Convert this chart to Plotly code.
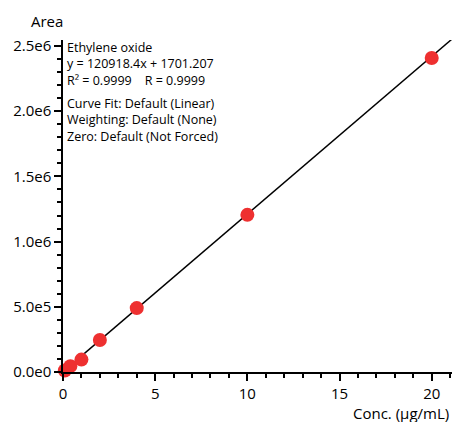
import plotly.graph_objects as go

conc = [0.1, 0.4, 1, 2, 4, 10, 20]
area = [12000, 45000, 95000, 245000, 490000, 1205000, 2408000]
slope = 120918.4
intercept = 1701.207
x_max = 21.1
y_max = 2.546e6
y_tickvals = [0, 0.5e6, 1.0e6, 1.5e6, 2.0e6, 2.5e6]
y_ticktext = ["0.0e0", "5.0e5", "1.0e6", "1.5e6", "2.0e6", "2.5e6"]
x_tickvals = [0, 5, 10, 15, 20]
fit_lines = [
    "Ethylene oxide",
    "y = 120918.4x + 1701.207",
    "R² = 0.9999&nbsp;&nbsp;&nbsp;&nbsp;R = 0.9999",
]
settings_lines = [
    "Curve Fit: Default (Linear)",
    "Weighting: Default (None)",
    "Zero: Default (Not Forced)",
]

FONT = "Open Sans, Noto Sans, sans-serif"

fit_x = [0, x_max]
fit_y = [slope * v + intercept for v in fit_x]

fig = go.Figure()
fig.add_trace(go.Scatter(x=fit_x, y=fit_y, mode="lines",
                         line=dict(color="black", width=1.5),
                         hoverinfo="skip", cliponaxis=True))
fig.add_trace(go.Scatter(x=conc, y=area, mode="markers",
                         marker=dict(color="#ee3030", size=14, line=dict(width=0)),
                         cliponaxis=False))

fig.update_layout(
    width=452, height=422,
    margin=dict(l=63, r=0, t=40, b=50, autoexpand=False),
    paper_bgcolor="white", plot_bgcolor="white",
    showlegend=False,
    font=dict(family=FONT, color="black"),
    xaxis=dict(range=[0, x_max], tickvals=x_tickvals, showgrid=False, zeroline=False,
               showline=True, linecolor="black", linewidth=1.5, automargin=False,
               ticks="outside", ticklen=7, tickwidth=1.5, tickcolor="black",
               tickfont=dict(size=15, family=FONT),
               minor=dict(dtick=1, ticks="outside", ticklen=4, tickwidth=1.5, tickcolor="black")),
    yaxis=dict(range=[0, y_max], tickvals=y_tickvals, ticktext=y_ticktext, showgrid=False,
               zeroline=False, showline=True, linecolor="black", linewidth=1.5, automargin=False,
               ticks="outside", ticklen=7, tickwidth=1.5, tickcolor="black",
               tickfont=dict(size=15, family=FONT),
               minor=dict(dtick=1e5, ticks="outside", ticklen=4, tickwidth=1.5, tickcolor="black")),
)

fig.add_annotation(text="Area", xref="paper", yref="paper", x=-0.041, y=1.0,
                   xanchor="center", yanchor="bottom", yshift=7, showarrow=False,
                   font=dict(size=15, family=FONT))
fig.add_annotation(text="Conc. (µg/mL)", xref="paper", yref="paper", x=1.0, y=0,
                   xanchor="right", yanchor="top", yshift=-29, xshift=-1, showarrow=False,
                   font=dict(size=15, family=FONT))
fig.add_annotation(text="<br>".join(fit_lines), xref="paper", yref="paper", x=0, y=1.0,
                   xanchor="left", yanchor="top", xshift=2, yshift=3, showarrow=False,
                   align="left", font=dict(size=12.5, family=FONT))
fig.add_annotation(text="<br>".join(settings_lines), xref="paper", yref="paper", x=0, y=1.0,
                   xanchor="left", yanchor="top", xshift=2, yshift=-53, showarrow=False,
                   align="left", font=dict(size=12.5, family=FONT))

fig.write_html("out.html", config={"displayModeBar": False},
               post_script="document.body.style.margin='0';")
